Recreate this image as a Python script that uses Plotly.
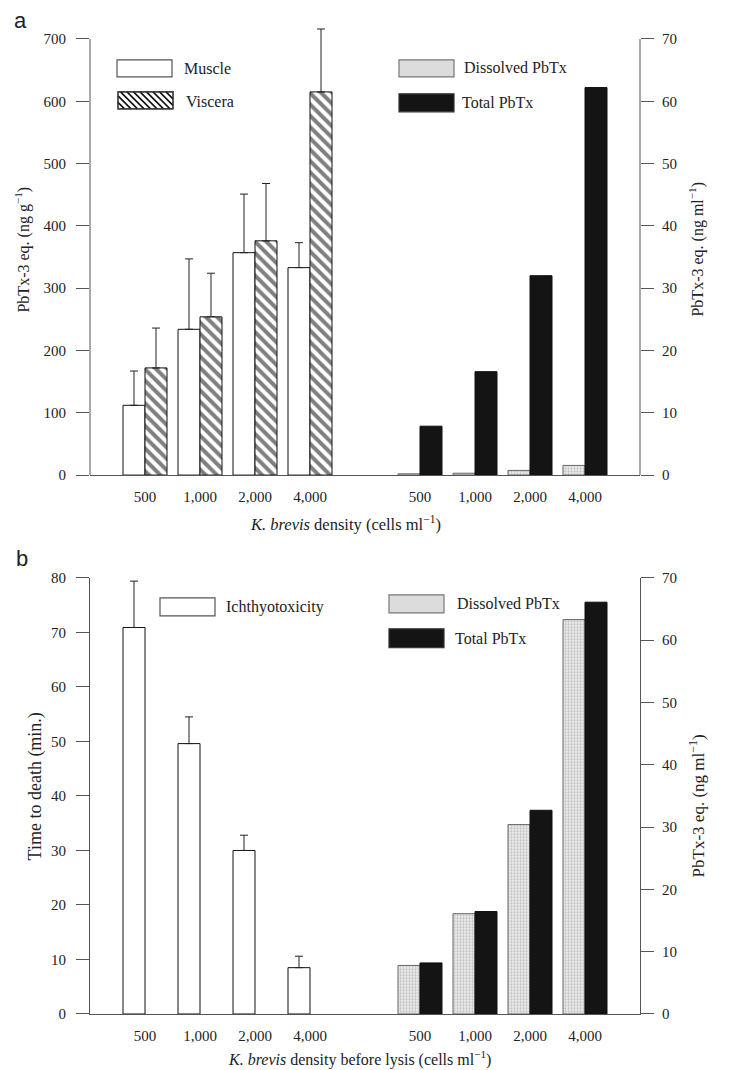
import plotly.graph_objects as go

# ---------------- data ----------------
densities = ["500", "1,000", "2,000", "4,000"]

# panel a (left axis, ng g-1)
muscle = [112, 234, 357, 333]
muscle_err = [55, 113, 94, 40]
viscera = [172, 254, 376, 615]
viscera_err = [64, 70, 92, 101]
# panel a (right axis, ng ml-1)
dissolved_a = [0.2, 0.3, 0.75, 1.55]
total_a = [7.85, 16.6, 32.0, 62.2]

# panel b (left axis, minutes)
ichthyo = [70.9, 49.6, 30.0, 8.5]
ichthyo_err = [8.5, 4.9, 2.8, 2.1]
# panel b (right axis, ng ml-1)
dissolved_b = [7.8, 16.1, 30.4, 63.3]
total_b = [8.2, 16.45, 32.7, 66.1]

# ---------------- layout helpers ----------------
W, H = 734, 1070
L, R, T, B = 90, 640, 18, 1014
PW, PH = R - L, B - T
A_TOP, A_BOT = 37, 474          # pixel rows of 700 / 0 on panel a
B_TOP = 577                      # pixel row of panel b top


def px(x):
    return (x - L) / PW


def py(y):
    return (B - y) / PH


left_pos = [i + 1 for i in range(len(densities))]
right_pos = [i + 6 for i in range(len(densities))]
tickvals = left_pos + right_pos
ticktext = densities + densities

SERIF = "Liberation Serif, Times New Roman, serif"
SANS = "Liberation Sans, Arial, sans-serif"
AX = "#555555"
TXT = "#222222"
BW = 0.4

hatch = dict(shape="\\", size=8, solidity=0.5, fgcolor="#000", bgcolor="white")
dots = dict(shape=".", size=3, solidity=0.45, fgcolor="#9a9a9a", bgcolor="#ededed")

fig = go.Figure()


def err(vals):
    return dict(type="data", symmetric=False, array=vals, arrayminus=[0] * len(vals),
                color=TXT, thickness=1, width=4)


# panel a
fig.add_trace(go.Bar(x=left_pos, y=muscle, offset=-BW, width=BW, marker=dict(color="white", line=dict(color="#111", width=1)),
                     error_y=err(muscle_err), xaxis="x", yaxis="y", name="Muscle"))
fig.add_trace(go.Bar(x=left_pos, y=viscera, offset=0, width=BW,
                     marker=dict(color="white", pattern=hatch, line=dict(color="#111", width=1)),
                     error_y=err(viscera_err), xaxis="x", yaxis="y", name="Viscera"))
fig.add_trace(go.Bar(x=right_pos, y=dissolved_a, offset=-BW, width=BW,
                     marker=dict(color="#ededed", pattern=dots, line=dict(color="#666", width=1)),
                     xaxis="x", yaxis="y2", name="Dissolved PbTx"))
fig.add_trace(go.Bar(x=right_pos, y=total_a, offset=0, width=BW,
                     marker=dict(color="#141414", line=dict(color="#111", width=1)),
                     xaxis="x", yaxis="y2", name="Total PbTx"))

# panel b
fig.add_trace(go.Bar(x=left_pos, y=ichthyo, offset=-BW, width=BW, marker=dict(color="white", line=dict(color="#111", width=1)),
                     error_y=err(ichthyo_err), xaxis="x2", yaxis="y3", name="Ichthyotoxicity"))
fig.add_trace(go.Bar(x=right_pos, y=dissolved_b, offset=-BW, width=BW,
                     marker=dict(color="#ededed", pattern=dots, line=dict(color="#666", width=1)),
                     xaxis="x2", yaxis="y4", name="Dissolved PbTx"))
fig.add_trace(go.Bar(x=right_pos, y=total_b, offset=0, width=BW,
                     marker=dict(color="#141414", line=dict(color="#111", width=1)),
                     xaxis="x2", yaxis="y4", name="Total PbTx"))

tickfont = dict(family=SERIF, size=15, color=TXT)


def xax(anchor):
    return dict(domain=[0, 1], range=[0, 10], anchor=anchor, tickvals=tickvals, ticktext=ticktext,
                showline=True, linecolor=AX, linewidth=1, ticks="outside", ticklen=8,
                tickcolor="rgba(0,0,0,0)", showgrid=False, zeroline=False, tickfont=tickfont, fixedrange=True)


def yax(domain, rng, dtick, side="left", overlaying=None, anchor=None, standoff=7, showline=True):
    d = dict(domain=domain, range=rng, dtick=dtick, side=side, showline=showline, linecolor=AX, linewidth=1,
             ticks="outside", ticklen=13, tickcolor=AX, showgrid=False, zeroline=False, tickfont=tickfont,
             ticklabelstandoff=standoff)
    if overlaying:
        d["overlaying"] = overlaying
    if anchor:
        d["anchor"] = anchor
    return d


dom_a = [py(A_BOT), 1]
dom_b = [0, py(B_TOP)]
# panel a axes extend a little above the top tick so the tallest error bar is not clipped
ext = (A_BOT - T) / (A_BOT - A_TOP)
left_a_max, right_a_max = 700, 70

fig.update_layout(
    width=W, height=H,
    margin=dict(l=L, r=W - R, t=T, b=H - B, pad=0),
    paper_bgcolor="white", plot_bgcolor="white",
    showlegend=False, barmode="overlay",
    font=dict(family=SERIF, size=15, color=TXT),
    xaxis=xax("y"),
    yaxis=yax(dom_a, [0, left_a_max * ext], 100, anchor="x", standoff=7, showline=False),
    yaxis2=yax(dom_a, [0, right_a_max * ext], 10, side="right", overlaying="y", anchor="x", standoff=5, showline=False),
    xaxis2=xax("y3"),
    yaxis3=yax(dom_b, [0, 80], 10, anchor="x2", standoff=7),
    yaxis4=yax(dom_b, [0, 70], 10, side="right", overlaying="y3", anchor="x2", standoff=5),
)

shapes = [
    dict(type="line", xref="paper", x0=0, x1=0, yref="y", y0=0, y1=left_a_max, line=dict(color=AX, width=1)),
    dict(type="line", xref="paper", x0=1, x1=1, yref="y2", y0=0, y1=right_a_max, line=dict(color=AX, width=1)),
]
annotations = []


def rect(x0, y0, x1, y1, fill, line="#555"):
    shapes.append(dict(type="rect", xref="paper", yref="paper", x0=px(x0), x1=px(x1), y0=py(y0), y1=py(y1),
                       fillcolor=fill, line=dict(color=line, width=1.2), layer="above"))


def hatch_rect(x0, y0, x1, y1, step=6.5):
    h = y1 - y0
    a = x0 - h
    while a < x1:
        t0 = max(0.0, (x0 - a) / h)
        t1 = min(1.0, (x1 - a) / h)
        if t1 > t0:
            shapes.append(dict(type="line", xref="paper", yref="paper",
                               x0=px(a + t0 * h), y0=py(y0 + t0 * h), x1=px(a + t1 * h), y1=py(y0 + t1 * h),
                               line=dict(color="#111", width=1.6), layer="above"))
        a += step
    rect(x0, y0, x1, y1, "rgba(0,0,0,0)", "#333")


def text(x, y, s, size=16, family=SERIF, xanchor="left", angle=0):
    annotations.append(dict(xref="paper", yref="paper", x=px(x), y=py(y), text=s, showarrow=False,
                            xanchor=xanchor, yanchor="middle", textangle=angle,
                            font=dict(family=family, size=size, color=TXT)))


# legends panel a
rect(117, 58, 172, 75, "white")
text(182, 66.5, "Muscle")
rect(118, 90, 173, 107, "white")
hatch_rect(118, 90, 173, 107)
text(184, 99.5, "Viscera")
rect(399, 58, 454, 75, "#dcdcdc", "#777")
text(462, 65.5, "Dissolved PbTx")
rect(399, 92, 454, 110, "#141414", "#333")
text(460, 101, "Total PbTx")

# legends panel b
rect(160, 597, 215, 615, "white")
text(224, 606, "Ichthyotoxicity")
rect(389, 594, 444, 612, "#dcdcdc", "#777")
text(455, 602.5, "Dissolved PbTx")
rect(389, 628, 444, 647, "#141414", "#333")
text(453, 638, "Total PbTx")

# panel letters
text(20, 18, "a", size=22, family=SANS, xanchor="center")
text(22, 558, "b", size=22, family=SANS, xanchor="center")

# axis titles
text(23, 248, "PbTx-3 eq. (ng g<sup>−1</sup>)", size=16, xanchor="center", angle=-90)
text(697, 247, "PbTx-3 eq. (ng ml<sup>−1</sup>)", size=16, xanchor="center", angle=-90)
text(345, 523, "<i>K. brevis</i> density (cells ml<sup>−1</sup>)", size=16.5, xanchor="center")

text(35, 786, "Time to death (min.)", size=18, xanchor="center", angle=-90)
text(697, 805, "PbTx-3 eq. (ng ml<sup>−1</sup>)", size=17, xanchor="center", angle=-90)
text(359, 1059, "<i>K. brevis</i> density before lysis (cells ml<sup>−1</sup>)", size=16, xanchor="center")

fig.update_layout(shapes=shapes, annotations=annotations)
fig.write_html("out.html", config={"displayModeBar": False},
               post_script="document.body.style.margin='0';document.body.style.padding='0';")
